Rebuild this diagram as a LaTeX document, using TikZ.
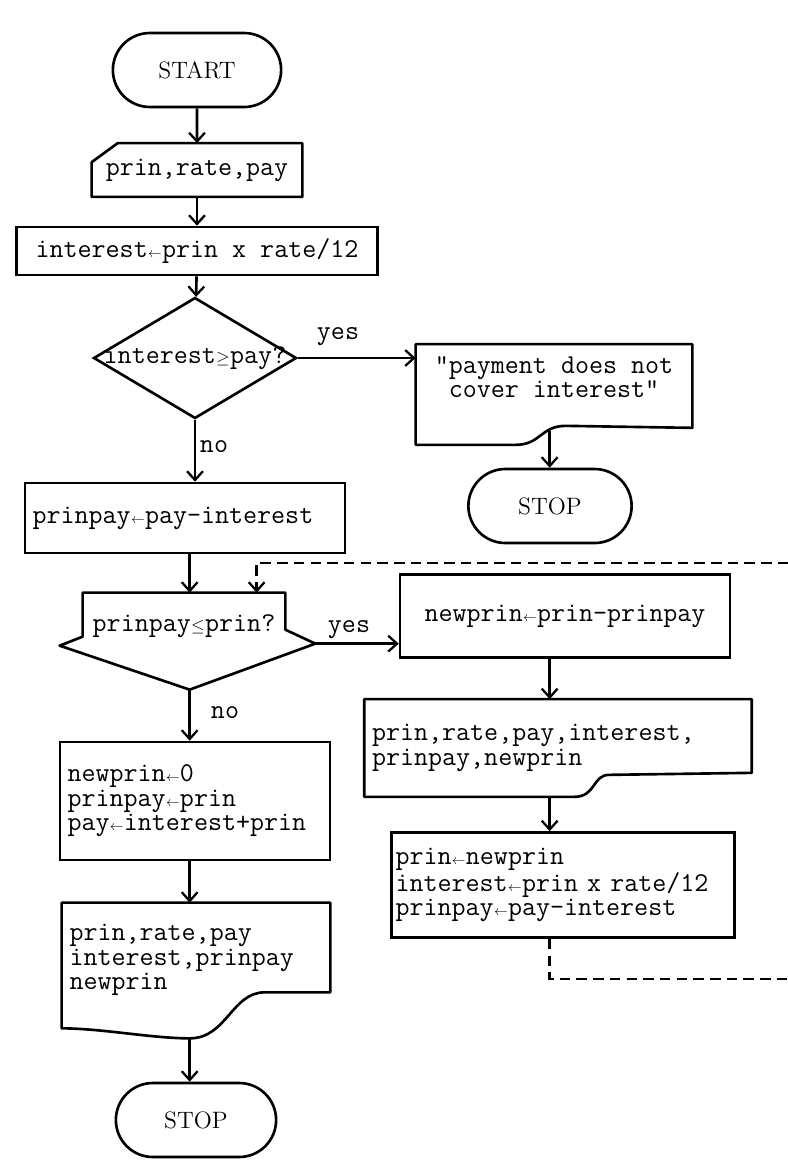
\documentclass[tikz,border=0pt]{standalone}
\usepackage{graphicx}
\usetikzlibrary{positioning,calc,shapes.misc,shapes.geometric,arrows.meta}
\newcommand{\sym}[1]{\makebox[0.525em]{\resizebox{0.5em}{!}{$#1$}}}
\newcommand{\la}{\sym{\leftarrow}}

\begin{document}
\begin{tikzpicture}[x=0.02cm,y=-0.02cm,
    every node/.style={font=\fontsize{15.5}{14}\selectfont\ttfamily},
    term/.style={draw,rounded rectangle,line width=1.5pt,minimum width=3.6cm,minimum height=1.48cm,
                 font=\fontsize{13.5}{15}\selectfont\rmfamily},
    proc/.style={draw,line width=1.5pt,inner xsep=.15cm,align=left},
    shell/.style={rectangle,inner xsep=.15cm,align=left},
    outline/.style={line width=1.5pt,line join=round},
    arr/.style={line width=1.5pt,-{Straight Barb[length=5pt,width=9pt,line width=1.3pt]}},
    backline/.style={line width=1.5pt,dash pattern=on 6pt off 3.5pt,
                     -{Straight Barb[length=5pt,width=9pt,line width=1.3pt]}}
  ]
    \path[fill=white] (0,0) rectangle (788,1161);
    \useasboundingbox (0,0) rectangle (788,1161);

    \node[term] (start) at (197,70) {START};
    \node[shell,minimum width=4.2cm,minimum height=1.06cm] (inp) at (197,170) {prin,rate,pay};
    \draw[outline] (inp.south west) -- ($(inp.north west)+(0,19)$) -- ($(inp.north west)+(26,0)$)
        -- (inp.north east) -- (inp.south east) -- cycle;
    \node[proc,minimum width=7.22cm,minimum height=.96cm] (intr) at (197,251) {interest\la prin x rate/12};

    \node[diamond,draw,line width=1.5pt,minimum width=4.06cm,minimum height=2.42cm,inner sep=0pt] (test1) at (195,358) {};
    \node (q1) at (test1) {interest\sym{\geq}pay?};
    \node (yes1) at (338,337) {yes};
    \node (no1) at (214,447) {no};

    \node[shell,minimum width=5.52cm,minimum height=1.3cm,align=center] (msg) at (554,377) {"payment does not\\cover interest"};
    \draw[outline] (msg.north west) -- (msg.north east) -- ($(msg.south east)+(0,18)$)
        -- ($(msg.south west)+(150,16)$) .. controls ($(msg.south west)+(125,16)$) and ($(msg.south west)+(125,35)$)
        .. ($(msg.south west)+(100,35)$) -- ($(msg.south west)+(0,35)$) -- cycle;
    \coordinate (w1) at ($(msg.south west)+(134,21)$);
    \node[term,minimum width=3.5cm] (stop1) at (550,506) {STOP};

    \node[proc,text width=6.1cm,minimum height=1.4cm] (sub) at (185,518) {prinpay\la pay-interest};

    \node[shell,minimum width=4.04cm,minimum height=1.32cm,align=center] (test2) at (184,626) {prinpay\sym{\leq}prin?};
    \coordinate (t2b) at ($(test2.north west)+(107,97)$);
    \coordinate (t2r) at ($(test2.north east)+(30,51)$);
    \coordinate (t2in) at ($(test2.north west)+(174,0)$);
    \draw[outline] (test2.north west) -- ($(test2.north west)+(0,44)$) -- ($(test2.north west)+(-23,53)$)
        -- (t2b) -- (t2r) -- ($(test2.north east)+(0,37)$) -- (test2.north east) -- cycle;
    \node (yes2) at (349,630) {yes};
    \node (no2) at (225,713) {no};

    \node[proc,minimum width=6.6cm,minimum height=1.66cm] (upd) at (565,616) {newprin\la prin-prinpay};
    \node[shell,text width=7.44cm,minimum height=1.94cm] (out1) at (558,748) {prin,rate,pay,interest,\\prinpay,newprin};
    \draw[outline] (out1.north west) -- (out1.north east) -- ($(out1.south east)+(0,-24)$)
        -- ($(out1.south west)+(245,-22)$) .. controls ($(out1.south west)+(228,-22)$) and ($(out1.south west)+(232,0)$)
        .. ($(out1.south west)+(210,0)$) -- (out1.south west) -- cycle;
    \node[proc,inner xsep=.08cm,text width=6.7cm,minimum height=2.1cm] (upd2) at (563,885)
        {prin\la newprin\\interest\la prin x rate/12\\prinpay\la pay-interest};
    \coordinate (ret) at (800,563);

    \node[proc,text width=5.1cm,minimum height=2.36cm] (zero) at (195,801) {newprin\la 0\\prinpay\la prin\\pay\la interest+prin};
    \node[shell,text width=5.06cm,minimum height=2.28cm] (out2) at (196,960) {prin,rate,pay\\interest,prinpay\\newprin};
    \coordinate (w3) at ($(out2.south west)+(128,21)$);
    \draw[outline] (out2.north west) -- (out2.north east) -- ($(out2.south east)+(0,-25)$)
        -- ($(out2.south west)+(203,-25)$) .. controls ($(out2.south west)+(170,-25)$) and ($(out2.south west)+(165,21)$)
        .. (w3) .. controls ($(out2.south west)+(90,21)$) and ($(out2.south west)+(40,11)$)
        .. ($(out2.south west)+(0,11)$) -- cycle;
    \node[term,minimum width=3.44cm] (stop2) at (196,1120) {STOP};

    \foreach \a/\b in {start/inp,inp/intr,intr/test1} \draw[arr] (\a) -- (\b);
    \draw[arr] (test1.east) -- (test1.east -| msg.west);
    \draw[arr] (w1) -- (w1 |- stop1.north);
    \draw[arr] (test1.south) -- (test1.south |- sub.north);
    \draw[arr] (sub.south -| t2b) -- (test2.north -| t2b);
    \draw[arr] (t2r) -- (t2r -| upd.west);
    \draw[arr] (upd.south -| w1) -- (out1.north -| w1);
    \draw[arr] (out1.south -| w1) -- (upd2.north -| w1);
    \draw[backline] (upd2.south -| w1) -- ++(0,40) -| (ret) -| (t2in);
    \draw[arr] (t2b) -- (t2b |- zero.north);
    \draw[arr] (zero.south -| t2b) -- (out2.north -| t2b);
    \draw[arr] (w3) -- (w3 |- stop2.north);
  \end{tikzpicture}
\end{document}
